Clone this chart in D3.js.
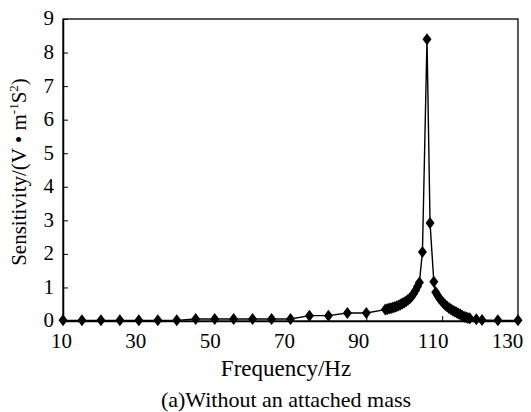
<!DOCTYPE html>
<html><head><meta charset="utf-8">
<script src="https://cdn.jsdelivr.net/npm/d3@7"></script>
<style>body{margin:0;background:#fff}svg{display:block}</style>
</head><body><svg id="c" width="531" height="412"></svg>
<script>
const freq = [10,15,20,25,30,35,40,45,50,55,60,65,70,75,80,85,90,
  95,95.5,96,96.5,97,97.5,98,98.5,99,99.5,100,100.5,101,101.5,102,102.5,103,103.5,104,
  104.8,106,106.8,107.8,
  108.3,108.8,109.3,109.8,110.3,110.8,111.3,111.8,112.3,112.8,113.3,113.8,114.3,114.8,115.3,115.8,116.3,116.8,117.3,
  119,120.5,124.7,130];
const sens = [0.02,0.02,0.02,0.02,0.02,0.02,0.02,0.06,0.06,0.06,0.06,0.06,0.06,0.16,0.16,0.24,0.24,
  0.34,0.35,0.37,0.38,0.40,0.42,0.44,0.46,0.49,0.52,0.55,0.59,0.63,0.68,0.74,0.82,0.92,1.03,1.15,
  2.06,8.4,2.92,1.17,
  0.86,0.76,0.67,0.60,0.54,0.48,0.43,0.39,0.35,0.31,0.28,0.25,0.22,0.19,0.16,0.13,0.11,0.09,0.08,
  0.05,0.03,0.02,0.02];
const xTicks = [10,30,50,70,90,110,130];
const yTicks = [0,1,2,3,4,5,6,7,8,9];
const xTitle = "Frequency/Hz";
const caption = "(a)Without an attached mass";

const FONT = "'Liberation Serif'";
const svg = d3.select("#c");
const L=63, R=518, T=19, B=321;
const x = d3.scaleLinear().domain([10,130]).range([L,R]);
const y = d3.scaleLinear().domain([0,9]).range([B,T]);
const data = freq.map((f,i)=>({f, s:sens[i]}));

svg.append("rect").attr("x",L).attr("y",T).attr("width",R-L).attr("height",B-T)
  .attr("fill","none").attr("stroke","#000").attr("stroke-width",1.3);

const xa = svg.append("g").attr("transform",`translate(0,${B})`)
  .call(d3.axisBottom(x).tickValues(xTicks).tickSizeInner(-5).tickSizeOuter(0).tickPadding(12));
xa.attr("font-family",null).attr("font-size",null);
xa.select(".domain").attr("stroke","#000").attr("stroke-width",1.5);
xa.selectAll("text").style("font-family",FONT).style("font-size","21px").attr("fill","#000")
  .attr("dx",d=>-2-(d-10)/120*9).attr("dy","0.71em");
const ya = svg.append("g").attr("transform",`translate(${L},0)`)
  .call(d3.axisLeft(y).tickValues(yTicks).tickSizeInner(-5).tickSizeOuter(0).tickPadding(9));
ya.attr("font-family",null).attr("font-size",null);
ya.select(".domain").attr("stroke","#000").attr("stroke-width",1.5);
ya.selectAll("text").style("font-family",FONT).style("font-size","21px").attr("fill","#000").attr("dy","0.28em");
svg.selectAll(".tick line").attr("stroke","#000");

svg.append("path").datum(data)
  .attr("d", d3.line().x(d=>x(d.f)).y(d=>y(d.s)))
  .attr("fill","none").attr("stroke","#000").attr("stroke-width",1.4);

svg.append("g").selectAll("path").data(data).join("path")
  .attr("transform",d=>`translate(${x(d.f)},${y(d.s)})`)
  .attr("d","M0,-6L4.5,0L0,6L-4.5,0Z").attr("fill","#000");

svg.append("text").attr("x",286).attr("y",376).attr("text-anchor","middle")
  .style("font-family",FONT).style("font-size","23px").text(xTitle);
svg.append("text").attr("x",286).attr("y",407).attr("text-anchor","middle")
  .style("font-family",FONT).style("font-size","22px").text(caption);
const yl = svg.append("text").attr("transform","translate(26,172) rotate(-90)")
  .attr("text-anchor","middle").style("font-family",FONT).style("font-size","21px");
yl.append("tspan").text("Sensitivity/(V • m");
yl.append("tspan").style("font-size","13px").attr("dy",-8).text("-1");
yl.append("tspan").attr("dy",8).text("S");
yl.append("tspan").style("font-size","13px").attr("dy",-8).text("2");
yl.append("tspan").attr("dy",8).text(")");
</script></body></html>
